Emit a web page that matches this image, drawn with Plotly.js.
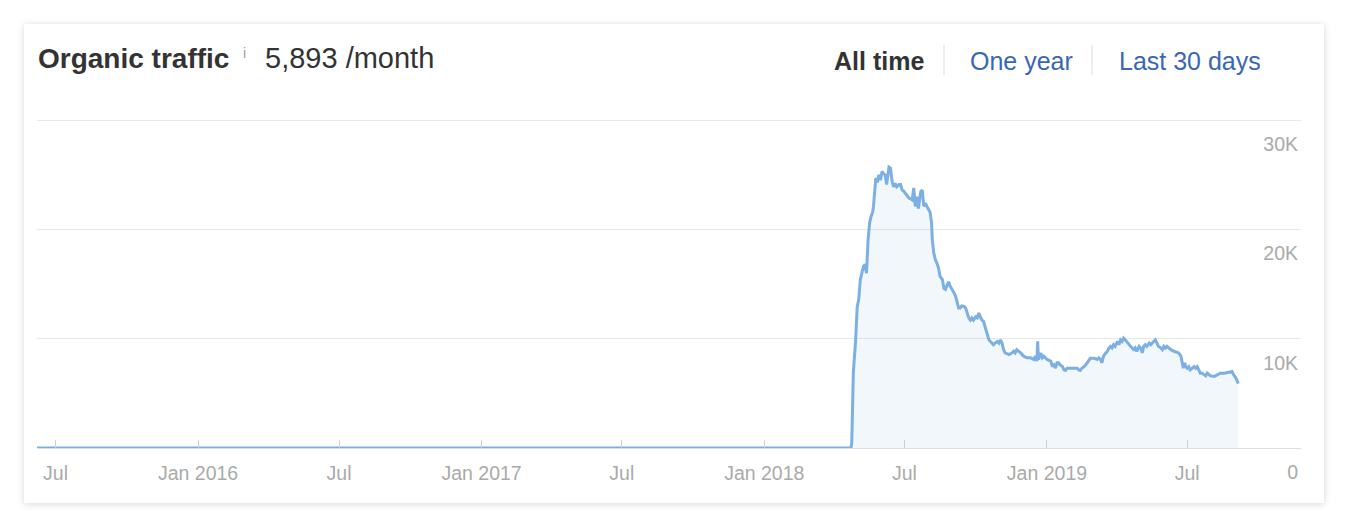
<!DOCTYPE html>
<html>
<head>
<meta charset="utf-8">
<script src="https://cdn.plot.ly/plotly-3.0.1.min.js"></script>
<style>
  html, body { margin: 0; padding: 0; background: #ffffff; }
  #wrap { position: relative; width: 1360px; height: 528px; overflow: hidden; }
  #card { position: absolute; left: 24px; top: 24px; width: 1300px; height: 479px; background: #fff;
          box-shadow: 0 1px 7px rgba(0,0,0,0.16); }
  #chart { position: absolute; left: 0; top: 0; width: 1360px; height: 528px; }
</style>
</head>
<body>
<div id="wrap">
  <div id="card"></div>
  <div id="chart"></div>
</div>
<script>
// ---- data ----
const dates = [
 '2015-06-07','2018-04-23','2018-04-24','2018-04-26','2018-04-29',
 '2018-05-01','2018-05-03','2018-05-05','2018-05-07','2018-05-09','2018-05-11','2018-05-13','2018-05-15','2018-05-17','2018-05-19','2018-05-21','2018-05-22','2018-05-24','2018-05-25','2018-05-27','2018-05-29','2018-05-31',
 '2018-06-02','2018-06-04','2018-06-06','2018-06-08','2018-06-11','2018-06-13','2018-06-15','2018-06-17','2018-06-19','2018-06-21','2018-06-24','2018-06-26','2018-06-28','2018-06-30',
 '2018-07-02','2018-07-04','2018-07-07','2018-07-09','2018-07-11','2018-07-13','2018-07-15','2018-07-17','2018-07-19','2018-07-22','2018-07-24','2018-07-26','2018-07-28','2018-07-30',
 '2018-08-01','2018-08-03','2018-08-05','2018-08-06','2018-08-08','2018-08-10','2018-08-12','2018-08-14','2018-08-16','2018-08-19','2018-08-21','2018-08-23','2018-08-25','2018-08-27','2018-08-29','2018-08-31',
 '2018-09-03','2018-09-05','2018-09-07','2018-09-09','2018-09-11','2018-09-13','2018-09-16','2018-09-18','2018-09-20','2018-09-22','2018-09-24','2018-09-26','2018-09-28',
 '2018-10-01','2018-10-03','2018-10-05','2018-10-07','2018-10-09','2018-10-11','2018-10-14','2018-10-16','2018-10-18','2018-10-20','2018-10-22','2018-10-24','2018-10-26','2018-10-29','2018-10-31',
 '2018-11-02','2018-11-04','2018-11-06','2018-11-08','2018-11-13','2018-11-17','2018-11-19','2018-11-21','2018-11-23','2018-11-28',
 '2018-12-02','2018-12-06','2018-12-11','2018-12-15','2018-12-17','2018-12-19','2018-12-20','2018-12-21','2018-12-24','2018-12-26','2018-12-28',
 '2019-01-01','2019-01-06','2019-01-08','2019-01-10','2019-01-12','2019-01-14','2019-01-16','2019-01-18','2019-01-21','2019-01-23','2019-01-25','2019-01-27','2019-01-31',
 '2019-02-05','2019-02-09','2019-02-11','2019-02-13','2019-02-15','2019-02-18','2019-02-22','2019-02-24','2019-02-26',
 '2019-03-03','2019-03-07','2019-03-09','2019-03-11','2019-03-13','2019-03-15','2019-03-18','2019-03-20','2019-03-22','2019-03-24','2019-03-26','2019-03-28','2019-03-30',
 '2019-04-02','2019-04-04','2019-04-06','2019-04-08','2019-04-10','2019-04-12','2019-04-15','2019-04-17','2019-04-19','2019-04-21','2019-04-23','2019-04-25','2019-04-27','2019-04-30',
 '2019-05-02','2019-05-04','2019-05-06','2019-05-08','2019-05-10','2019-05-13','2019-05-15','2019-05-17','2019-05-19','2019-05-21','2019-05-23','2019-05-25','2019-05-28','2019-05-30',
 '2019-06-01','2019-06-03','2019-06-05','2019-06-10','2019-06-14','2019-06-18','2019-06-20','2019-06-23','2019-06-25','2019-06-26','2019-06-28','2019-06-29',
 '2019-07-01','2019-07-03','2019-07-05','2019-07-08','2019-07-10','2019-07-12','2019-07-14','2019-07-16','2019-07-18','2019-07-20','2019-07-23','2019-07-25','2019-07-27','2019-07-29','2019-07-31',
 '2019-08-05','2019-08-09','2019-08-13','2019-08-18','2019-08-22','2019-08-26','2019-08-28','2019-08-30',
 '2019-09-02','2019-09-05'
];
const traffic = [
 0, 0, 500, 6900, 9900,
 12900, 13600, 15400, 16000, 16600, 16800, 16000, 19000, 20600, 21200, 21600, 22100, 23900, 24700, 24300, 25000, 24500,
 25300, 25100, 25000, 24100, 25700, 25600, 24400, 23900, 24200, 23900, 24100, 24100, 23600, 23500,
 23300, 23100, 22850, 22800, 22700, 23800, 22100, 23000, 21900, 23450, 23600, 22100, 22400, 22100,
 21800, 21600, 20600, 19000, 17800, 17200, 16900, 16450, 15700, 15400, 14600, 14500, 14900, 15200, 14800, 14600,
 14200, 13900, 13300, 12800, 12800, 13000, 12950, 12800, 12350, 11900, 11700, 11900, 11700,
 12000, 11900, 12350, 12000, 11700, 11600, 10800, 10200, 9900, 9750, 9550, 9450, 9600, 9750, 9600,
 9900, 9600, 9000, 8700, 8550, 8700, 8850, 8700, 9000, 8700,
 8400, 8250, 8250, 8100, 8400, 7950, 9750, 8100, 8700, 8250, 8400,
 8100, 7950, 7450, 7600, 7300, 7800, 7800, 7600, 7450, 7150, 7100, 7300, 7300,
 7300, 7300, 7150, 7100, 7300, 7450, 7800, 7950, 8200,
 8200, 8100, 8250, 8100, 7800, 8400, 8700, 8850, 9150, 9300, 9150, 9450, 9300,
 9750, 9450, 9900, 9750, 10050, 9900, 9600, 9450, 9300, 9150, 9000, 9150, 8850, 9300,
 9150, 8700, 9300, 9450, 9300, 9600, 9450, 9600, 9750, 9900, 9600, 9300, 9150, 9000,
 9300, 9150, 9300, 9000, 8850, 8700, 8700, 8400, 7800, 7300, 7800, 7450,
 7300, 7450, 7150, 7300, 7450, 7300, 7450, 7150, 6850, 6850, 6700, 6600, 6850, 6700, 6600,
 6550, 6700, 6850, 6850, 6900, 7000, 7000, 6700,
 6400, 5893
];
const xTickVals = ['2015-07-01','2016-01-01','2016-07-01','2017-01-01','2017-07-01','2018-01-01','2018-07-01','2019-01-01','2019-07-01'];
const xTickText = ['Jul','Jan 2016','Jul','Jan 2017','Jul','Jan 2018','Jul','Jan 2019','Jul'];
const yTickVals = [0, 10000, 20000, 30000];
const yTickText = ['0', '10K', '20K', '30K'];
const headerTitle = 'Organic traffic';
const headerValue = '5,893 /month';
const rangeButtons = ['All time', 'One year', 'Last 30 days'];

// ---- layout geometry ----
const W = 1360, H = 528;
const M = {l: 37, r: 59, t: 119, b: 80};
const PW = W - M.l - M.r, PH = H - M.t - M.b;
const px = x => (x - M.l) / PW;
const py = y => (H - M.b - y) / PH;
const FONT = 'Liberation Sans, Arial, Helvetica, sans-serif';

const trace = {
  x: dates, y: traffic, type: 'scatter', mode: 'lines',
  line: {color: '#7cafe3', width: 3},
  fill: 'tozeroy', fillcolor: 'rgba(126,176,227,0.10)',
  hoverinfo: 'x+y'
};

const annotations = [
  {text: '<b>' + headerTitle + '</b>', x: px(37), y: py(58), font: {size: 28, color: '#333333'}},
  {text: 'i', x: px(242), y: py(53), font: {size: 14, color: '#a0a0a0'}},
  {text: headerValue, x: px(264), y: py(58), font: {size: 29, color: '#333333'}},
  {text: '<b>' + rangeButtons[0] + '</b>', x: px(833), y: py(61), font: {size: 25, color: '#333333'}},
  {text: rangeButtons[1], x: px(969), y: py(61), font: {size: 25, color: '#3a67b3'}},
  {text: rangeButtons[2], x: px(1118), y: py(61), font: {size: 25, color: '#3a67b3'}}
].map(a => Object.assign({xref: 'paper', yref: 'paper', xanchor: 'left', yanchor: 'middle',
                          showarrow: false, borderpad: 0}, a, {font: Object.assign({family: FONT}, a.font)}));

const shapes = [944, 1092].map(x => ({type: 'line', xref: 'paper', yref: 'paper',
  x0: px(x), x1: px(x), y0: py(45), y1: py(75), line: {color: '#dddddd', width: 1}}));

const layout = {
  width: W, height: H, margin: M,
  paper_bgcolor: 'rgba(0,0,0,0)', plot_bgcolor: 'rgba(0,0,0,0)',
  showlegend: false,
  font: {family: FONT, color: '#aaaaaa', size: 19.5},
  xaxis: {
    type: 'date', range: ['2015-06-07', '2019-11-25'],
    tickmode: 'array', tickvals: xTickVals, ticktext: xTickText,
    ticks: 'inside', ticklen: 8, tickcolor: '#d0d0d0', tickwidth: 1,
    showgrid: false, zeroline: false, showline: true, linecolor: '#dddddd', linewidth: 1,
    tickfont: {size: 19.5, color: '#aaaaaa'}, ticklabelstandoff: 8, fixedrange: true
  },
  yaxis: {
    range: [0, 30100], side: 'right', tickmode: 'array', tickvals: yTickVals, ticktext: yTickText,
    ticklabelposition: 'inside', ticklabelshift: 24, ticklabeloverflow: 'allow', ticks: '',
    showgrid: true, gridcolor: '#e8e8e8', gridwidth: 1, zeroline: false, showline: false,
    tickfont: {size: 19.5, color: '#aaaaaa'}, fixedrange: true
  },
  annotations: annotations,
  shapes: shapes
};

Plotly.newPlot('chart', [trace], layout, {displayModeBar: false, staticPlot: true});
</script>
</body>
</html>
